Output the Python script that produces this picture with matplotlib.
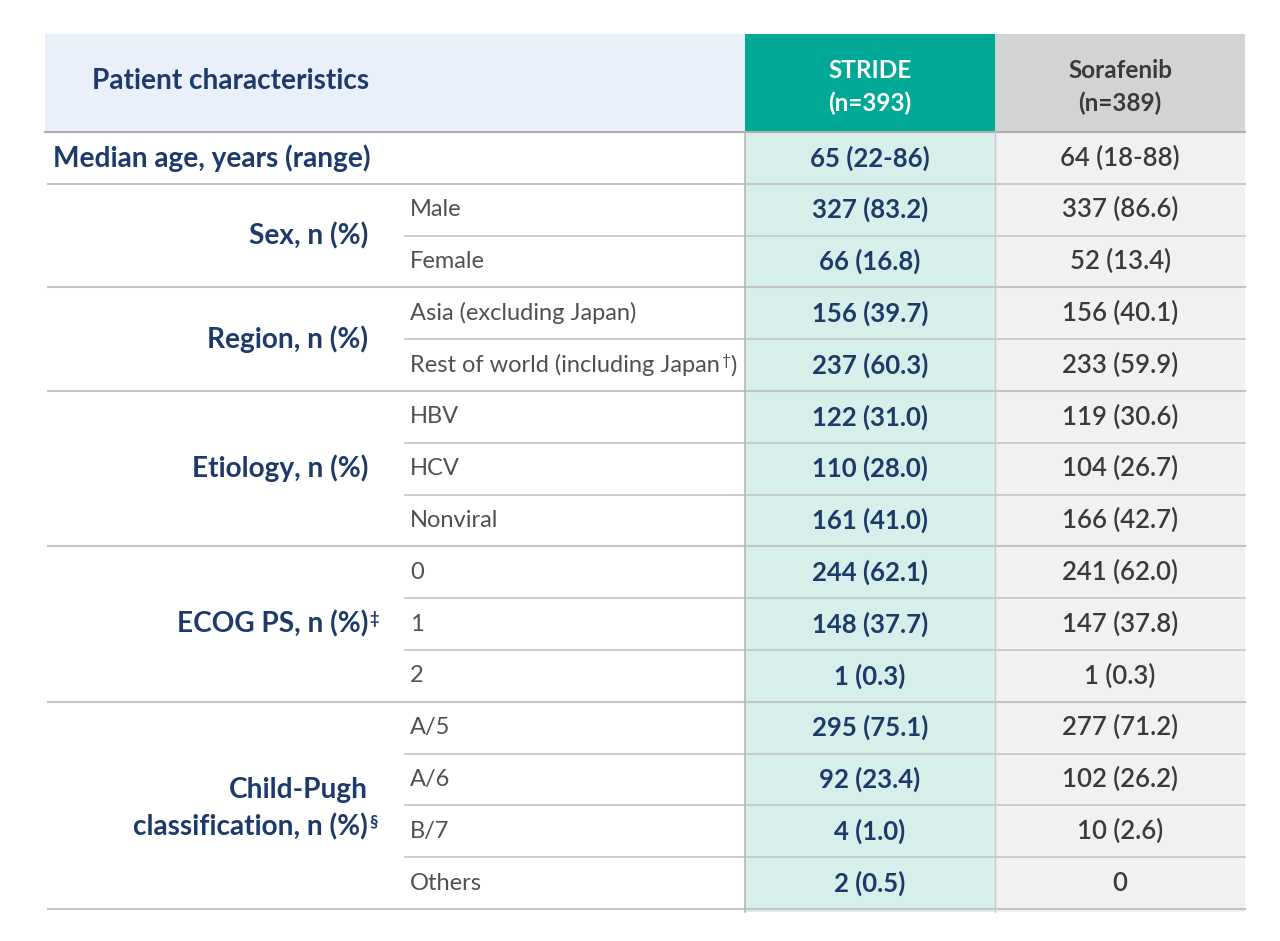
import matplotlib.pyplot as plt
from matplotlib.patches import Rectangle

# table content
header_label = "Patient characteristics"
arm_names = ["STRIDE\n(n=393)", "Sorafenib\n(n=389)"]

groups = [
    "Median age, years (range)",
    "Sex, n (%)",
    "Region, n (%)",
    "Etiology, n (%)",
    "ECOG PS, n (%)",
    "Child-Pugh\nclassification, n (%)",
]
group_marks = ["", "", "", "", "‡", "§"]
sub_rows = [
    [""],
    ["Male", "Female"],
    ["Asia (excluding Japan)", "Rest of world (including Japan|†|)"],
    ["HBV", "HCV", "Nonviral"],
    ["0", "1", "2"],
    ["A/5", "A/6", "B/7", "Others"],
]
stride_vals = [
    "65 (22-86)",
    "327 (83.2)", "66 (16.8)",
    "156 (39.7)", "237 (60.3)",
    "122 (31.0)", "110 (28.0)", "161 (41.0)",
    "244 (62.1)", "148 (37.7)", "1 (0.3)",
    "295 (75.1)", "92 (23.4)", "4 (1.0)", "2 (0.5)",
]
sorafenib_vals = [
    "64 (18-88)",
    "337 (86.6)", "52 (13.4)",
    "156 (40.1)", "233 (59.9)",
    "119 (30.6)", "104 (26.7)", "166 (42.7)",
    "241 (62.0)", "147 (37.8)", "1 (0.3)",
    "277 (71.2)", "102 (26.2)", "10 (2.6)", "0",
]

NAVY = "#1d3a6b"
GREY_TXT = "#505050"
LINE = "#c4c4c4"
FS_GROUP = 20.2
FS_SUB = 17
FS_VAL = 18.5

plt.rcParams["font.family"] = ["Lato", "DejaVu Sans"]

fig = plt.figure(figsize=(12.8, 9.41), dpi=100)
ax = fig.add_axes([0, 0, 1, 1])
ax.set_xlim(0, 1280)
ax.set_ylim(941, 0)
ax.axis("off")

x_left, x_sub, x_c1, x_c2, x_right = 45, 405, 745, 995, 1245
y_top, y_head = 34, 132
n_rows = len(stride_vals)
row_h = (909 - y_head) / n_rows
y_bot = y_head + n_rows * row_h

# header backgrounds
ax.add_patch(Rectangle((x_left, y_top), x_c1 - x_left, y_head - y_top, color="#e9f0fa", lw=0))
ax.add_patch(Rectangle((x_c1, y_top), x_c2 - x_c1, y_head - y_top, color="#00a896", lw=0))
ax.add_patch(Rectangle((x_c2, y_top), x_right - x_c2, y_head - y_top, color="#d2d3d5", lw=0))
# body column backgrounds
ax.add_patch(Rectangle((x_c1, y_head), x_c2 - x_c1, y_bot + 3 - y_head, color="#d7eeea", lw=0))
ax.add_patch(Rectangle((x_c2, y_head), x_right - x_c2, y_bot + 3 - y_head, color="#f1f1f1", lw=0))

ax.text(92, (y_top + y_head) / 2 - 2, header_label, ha="left", va="center",
        fontsize=FS_GROUP, fontweight="bold", color=NAVY)
ax.text((x_c1 + x_c2) / 2, (y_top + y_head) / 2 + 4, arm_names[0], ha="center", va="center",
        fontsize=17.5, fontweight="bold", color="white", linespacing=1.5)
ax.text((x_c2 + x_right) / 2, (y_top + y_head) / 2 + 4, arm_names[1], ha="center", va="center",
        fontsize=17.5, fontweight="bold", color="#3a3a3a", linespacing=1.5)

ax.plot([x_left, x_right], [y_head, y_head], color="#b0b0b0", lw=1.5)


def add_sup(artist, mark, size):
    return ax.annotate(mark, xy=(1, 1.0), xycoords=artist, xytext=(1, 0),
                       textcoords="offset points", ha="left", va="top",
                       fontsize=size, fontweight=artist.get_fontweight(),
                       color=artist.get_color())


row = 0
for gi, (grp, mark, subs) in enumerate(zip(groups, group_marks, sub_rows)):
    g_start = row
    for si, sub in enumerate(subs):
        yc = y_head + (row + 0.5) * row_h
        if sub:
            parts = sub.split("|")
            t = ax.text(x_sub + 5, yc, parts[0], ha="left", va="center",
                        fontsize=FS_SUB, color=GREY_TXT)
            if len(parts) == 3:
                s = add_sup(t, parts[1], 11)
                ax.annotate(parts[2], xy=(1, 0), xycoords=(s, t), ha="left",
                            va="bottom", fontsize=FS_SUB, color=GREY_TXT)
        ax.text((x_c1 + x_c2) / 2, yc, stride_vals[row], ha="center", va="center",
                fontsize=FS_VAL, fontweight="bold", color=NAVY)
        ax.text((x_c2 + x_right) / 2, yc, sorafenib_vals[row], ha="center", va="center",
                fontsize=FS_VAL, fontweight="semibold", color="#3a3a3a")
        row += 1
        y_line = y_head + row * row_h
        if si < len(subs) - 1:
            ax.plot([x_sub, x_right], [y_line, y_line], color=LINE, lw=1.2)
        else:
            ax.plot([x_left + 3, x_right], [y_line, y_line], color=LINE, lw=1.5)

    yg = y_head + (g_start + row) / 2 * row_h
    if subs == [""]:
        ax.text(53, yg, grp, ha="left", va="center", fontsize=FS_GROUP,
                fontweight="bold", color=NAVY)
    else:
        lines = grp.split("\n")
        gap = 37
        for li, line in enumerate(lines):
            y_l = yg + (li - (len(lines) - 1) / 2) * gap
            if len(lines) > 1:
                y_l += 3
            t = ax.text(368, y_l, line, ha="right", va="center", fontsize=FS_GROUP,
                        fontweight="bold", color=NAVY)
        if mark:
            add_sup(t, mark, 12)

# column dividers
ax.plot([x_c1, x_c1], [y_head, y_bot + 3], color="#b8b8b8", lw=1.2)
ax.plot([x_c2, x_c2], [y_head, y_bot + 3], color="#c8c8c8", lw=1.0)

fig.savefig("out.png", dpi=100)
